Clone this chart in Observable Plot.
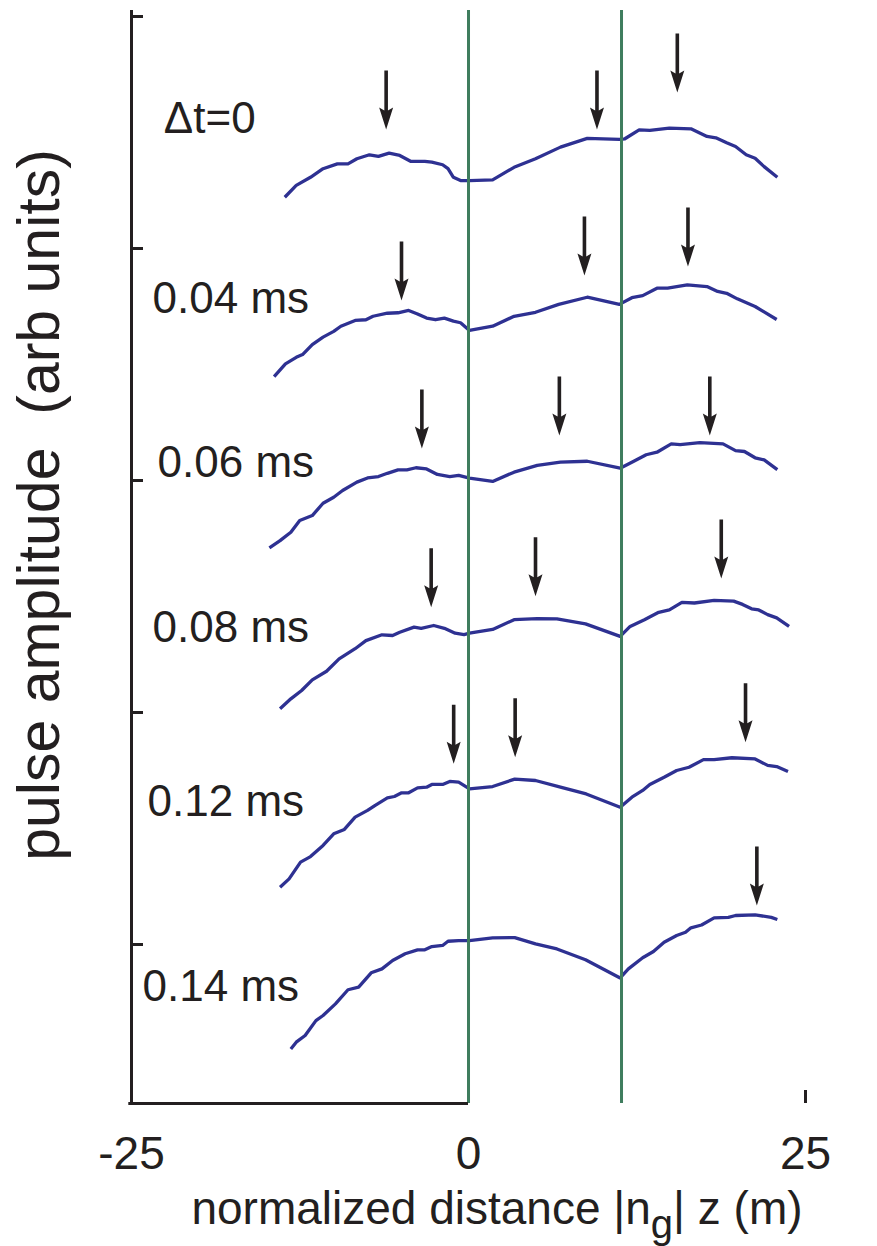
<!DOCTYPE html>
<html><head><meta charset="utf-8">
<script src="https://cdn.jsdelivr.net/npm/d3@7"></script>
<script src="https://cdn.jsdelivr.net/npm/@observablehq/plot@0.6"></script>
<style>body{margin:0;background:#fff}svg{display:block}</style>
</head><body><div id="chart"></div>
<script>
// ---- data (x: normalized distance |n_g| z in m, y: pulse amplitude, arb units, with trace offsets) ----
const trace_dt0 = [[-13.63,32.21],[-12.78,32.72],[-11.72,33.07],[-10.79,33.44],[-9.73,33.65],[-8.94,33.65],[-8.28,33.87],[-7.35,34.04],[-6.68,33.97],[-5.89,34.11],[-5.10,34.01],[-4.30,33.76],[-3.24,33.76],[-2.72,33.72],[-1.92,33.61],[-1.52,33.44],[-1.12,33.07],[-0.59,32.93],[0.07,32.93],[1.79,32.96],[3.38,33.50],[4.97,33.87],[6.82,34.37],[8.81,34.75],[11.19,34.70],[11.60,34.73],[12.66,35.11],[13.45,35.09],[14.90,35.19],[16.50,35.16],[17.69,34.83],[18.35,34.77],[19.15,34.56],[19.81,34.40],[20.60,34.04],[21.26,33.89],[21.93,33.53],[22.91,33.07]];
const trace_004 = [[-14.42,24.48],[-13.58,25.03],[-12.78,25.31],[-12.31,25.43],[-11.59,25.86],[-10.79,26.18],[-10.00,26.43],[-9.47,26.65],[-8.41,26.90],[-7.61,26.93],[-7.08,27.08],[-6.02,27.21],[-5.23,27.23],[-4.44,27.33],[-3.78,27.18],[-3.11,27.00],[-2.45,26.93],[-1.79,27.00],[-1.12,26.87],[-0.59,26.80],[0.07,26.47],[1.79,26.65],[3.38,27.08],[4.97,27.25],[6.69,27.59],[8.81,27.90],[11.19,27.59],[12.12,27.88],[12.92,27.97],[13.98,28.29],[14.77,28.29],[16.23,28.43],[17.69,28.36],[18.48,28.15],[19.15,28.07],[19.94,27.83],[21.26,27.50],[22.86,26.94]];
const trace_006 = [[-14.77,17.10],[-13.98,17.41],[-13.18,17.77],[-12.52,18.28],[-11.59,18.49],[-10.79,19.02],[-10.00,19.28],[-9.34,19.57],[-8.28,19.93],[-7.49,20.11],[-6.68,20.17],[-6.02,20.31],[-5.23,20.46],[-4.57,20.46],[-3.90,20.55],[-3.11,20.50],[-2.31,20.26],[-1.39,20.17],[-0.73,20.22],[0.07,20.10],[1.79,19.96],[3.38,20.36],[5.10,20.65],[6.82,20.79],[8.81,20.83],[11.25,20.53],[12.26,20.83],[13.18,21.11],[13.98,21.22],[15.04,21.58],[15.70,21.55],[17.16,21.63],[18.88,21.58],[19.81,21.29],[20.47,21.25],[21.26,20.98],[21.93,20.89],[22.91,20.47]];
const trace_008 = [[-13.98,10.16],[-13.18,10.59],[-12.38,10.95],[-11.59,11.41],[-10.53,11.78],[-9.60,12.31],[-8.41,12.75],[-7.61,13.10],[-6.42,13.35],[-5.63,13.32],[-5.10,13.46],[-4.04,13.68],[-3.51,13.63],[-2.58,13.75],[-1.79,13.63],[-0.99,13.42],[-0.33,13.36],[0.07,13.42],[1.79,13.58],[3.38,14.00],[5.10,14.05],[6.56,14.04],[8.68,13.82],[11.25,13.28],[11.99,13.71],[13.05,14.00],[14.11,14.32],[14.90,14.42],[15.83,14.75],[16.76,14.72],[18.22,14.83],[19.67,14.80],[20.33,14.66],[21.00,14.47],[21.53,14.42],[22.19,14.22],[22.86,14.08],[23.78,13.71]];
const trace_012 = [[-13.98,2.47],[-13.31,2.83],[-12.46,3.55],[-11.72,3.79],[-10.79,4.27],[-10.00,4.77],[-9.21,4.96],[-8.41,5.49],[-7.49,5.78],[-6.95,5.99],[-6.02,6.32],[-5.50,6.38],[-4.96,6.54],[-4.44,6.54],[-3.78,6.75],[-3.11,6.78],[-2.72,6.90],[-1.92,6.90],[-1.39,7.03],[-0.73,7.00],[0.07,6.71],[1.79,6.81],[3.43,7.13],[4.97,7.07],[6.82,6.78],[8.73,6.49],[11.25,5.92],[12.12,6.35],[12.92,6.64],[13.45,6.90],[14.51,7.21],[15.44,7.50],[16.36,7.64],[17.43,7.97],[18.22,7.97],[19.54,8.05],[21.26,8.00],[22.19,7.72],[22.86,7.67],[23.70,7.46]];
const trace_014 = [[-13.18,-4.50],[-12.78,-4.21],[-12.12,-3.92],[-11.32,-3.28],[-10.79,-3.06],[-9.87,-2.56],[-8.94,-1.95],[-8.15,-1.84],[-7.22,-1.22],[-6.42,-1.05],[-5.63,-0.69],[-4.70,-0.40],[-3.78,-0.23],[-3.24,-0.23],[-2.72,-0.09],[-1.92,-0.04],[-1.52,0.14],[-0.73,0.17],[0.07,0.17],[1.79,0.29],[3.43,0.30],[4.97,0.03],[6.56,-0.19],[8.68,-0.66],[11.25,-1.44],[11.86,-1.05],[12.92,-0.57],[13.72,-0.30],[14.51,0.10],[15.44,0.39],[16.10,0.53],[16.50,0.72],[17.29,0.84],[18.22,1.15],[19.28,1.17],[19.81,1.25],[21.26,1.28],[22.46,1.17],[22.91,1.08]];

// pulse-peak markers (x, tip y) per trace
const arrows_dt0 = [[-6.11,35.13],[9.53,35.13],[15.49,36.72]];
const arrows_004 = [[-4.97,27.76],[8.60,28.84],[16.28,29.22]];
const arrows_006 = [[-3.46,21.38],[6.74,21.94],[17.90,21.94]];
const arrows_008 = [[-2.77,14.54],[4.97,15.01],[18.75,15.78]];
const arrows_012 = [[-1.10,7.79],[3.46,8.07],[20.55,8.72]];
const arrows_014 = [[21.39,1.68]];

const traceLabels = ["\u0394t=0", "0.04 ms", "0.06 ms", "0.08 ms", "0.12 ms", "0.14 ms"];
const labelX = [-22.6, -23.44, -23.07, -23.44, -23.81, -24.18];
const labelY = [35.0, 27.24, 20.13, 13.02, 5.56, -2.45];

const boundaries = [0, 11.35];          // green vertical lines
const xTicks = [-25, 0, 25];
const yTicks = [0, 10, 20, 30, 40];
const xDomain = [-25, 30.34];
const yDomain = [-6.853, 40.259];

// ---- build ----
const INK = "#231f20", BLUE = "#2e3192", GREEN = "#3f7d5e";
const FONT = "'Liberation Sans', Arial, Helvetica, sans-serif";

const traces = [trace_dt0, trace_004, trace_006, trace_008, trace_012, trace_014];
const arrowSets = [arrows_dt0, arrows_004, arrows_006, arrows_008, arrows_012, arrows_014];
const lineData = traces.flatMap((t, k) => t.map(([x, y]) => ({k, x, y})));
const arrowData = arrowSets.flatMap((a, k) => a.map(([x, y]) => ({k, x, y})));
const labelData = traceLabels.map((text, i) => ({text, x: labelX[i], y: labelY[i]}));

// downward arrow glyph with its tip at the symbol origin
const arrowSymbol = {
  draw(ctx) {
    const L = 59, w = 1.8, hw = 7, hl = 22, notch = 4;
    const yj = -hl + notch * (1 - w / hw);
    ctx.moveTo(0, 0);
    ctx.lineTo(-hw, -hl);
    ctx.lineTo(-w, yj);
    ctx.lineTo(-w, -L);
    ctx.lineTo(w, -L);
    ctx.lineTo(w, yj);
    ctx.lineTo(hw, -hl);
    ctx.closePath();
  }
};

const chart = Plot.plot({
  width: 877, height: 1246,
  marginLeft: 131, marginRight: 0, marginTop: 10, marginBottom: 143,
  style: {fontFamily: FONT, color: INK, background: "#fff", overflow: "visible"},
  x: {domain: xDomain},
  y: {domain: yDomain},
  marks: [
    Plot.axisY({ticks: yTicks, tickSize: -12, strokeWidth: 3, tickFormat: () => "", label: null}),
    Plot.axisX({ticks: xTicks, tickSize: -13, strokeWidth: 3, tickFormat: () => "", label: null}),
    Plot.axisX({ticks: xTicks, tickSize: 0, tickPadding: 33, fontSize: 46, tickFormat: d => String(d), label: null}),
    Plot.line(lineData, {x: "x", y: "y", z: "k", stroke: BLUE, strokeWidth: 3.3, strokeLinejoin: "round", strokeLinecap: "butt"}),
    Plot.ruleX(boundaries, {stroke: GREEN, strokeWidth: 3}),
    Plot.ruleX([xDomain[0]], {stroke: INK, strokeWidth: 3}),
    Plot.ruleY([yDomain[0]], {stroke: INK, strokeWidth: 3, x1: xDomain[0] - 0.2}),
    Plot.dot(arrowData, {x: "x", y: "y", r: 5, symbol: arrowSymbol, fill: INK, stroke: "none"}),
    Plot.text(labelData, {x: "x", y: "y", text: "text", textAnchor: "start", lineAnchor: "bottom", fontSize: 44, fill: INK}),
    Plot.text(["pulse amplitude\u00a0 (arb units)"], {frameAnchor: "left", rotate: -90, dx: -73, dy: -52, lineAnchor: "bottom", textAnchor: "middle", fontSize: 59, fill: INK})
  ]
});

const svg = d3.select(chart);
const lab = svg.append("text")
  .attr("x", 497).attr("y", 1224).attr("text-anchor", "middle")
  .attr("font-family", FONT).attr("font-size", 46).attr("fill", INK);
lab.append("tspan").text("normalized distance |n");
lab.append("tspan").attr("font-size", 40).attr("dy", 14).text("g");
lab.append("tspan").attr("dy", -14).text("| z (m)");

document.getElementById("chart").appendChild(chart);
</script></body></html>
